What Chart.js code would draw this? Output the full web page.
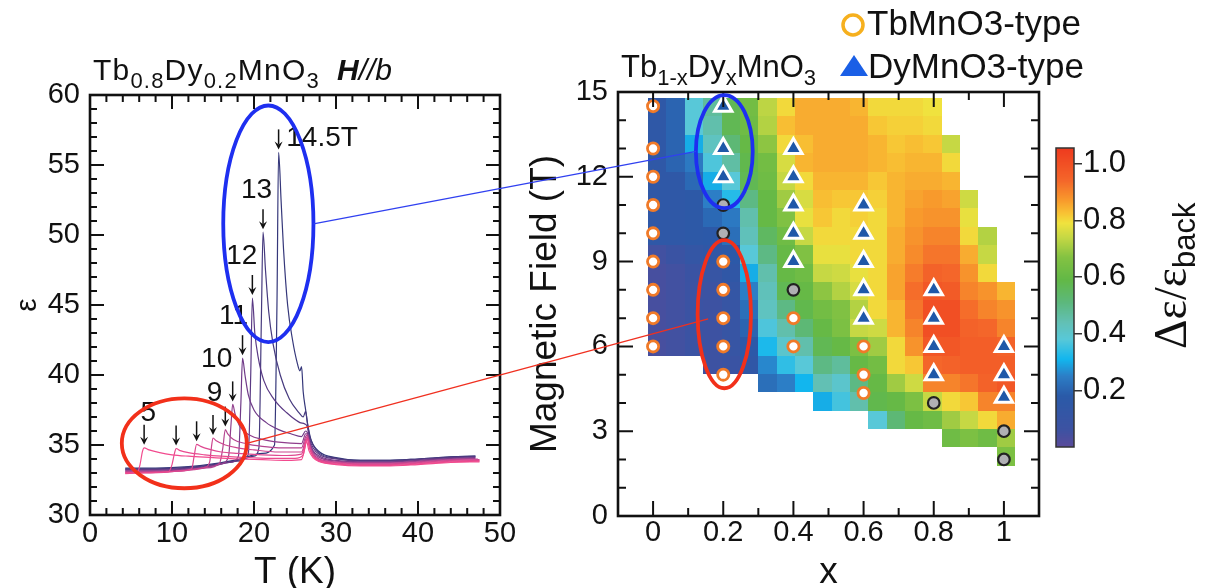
<!DOCTYPE html>
<html><head><meta charset="utf-8"><title>Tb1-xDyxMnO3</title>
<script src="https://cdn.jsdelivr.net/npm/chart.js@4.4.1/dist/chart.umd.min.js"></script>
<style>
html,body{margin:0;padding:0;background:#fff;overflow:hidden;}
#wrap{position:relative;width:1208px;height:588px;background:#fff;}
#wrap canvas{position:absolute;left:0;top:0;}
</style></head><body>
<div id="wrap">
 <canvas id="cEps" width="1208" height="588"></canvas>
 <canvas id="cMap" width="1208" height="588"></canvas>
 <canvas id="cBar" width="1208" height="588"></canvas>
</div>
<script>
// ================= DATA =================
// Left panel: epsilon(T) of Tb0.8Dy0.2MnO3, H // b, for several fields (T)
const fieldsT = [5, 6, 7, 8, 9, 10, 11, 12, 13, 14.5];
const eps_H5 = [[4.3,33.0],[5.0,33.0],[5.8,33.05],[6.1,33.6],[6.4,34.55],[6.6,34.8],[7.2,34.65],[8.5,34.45],[10,34.3],[12,34.2],[15,34.1],[18,34.0],[21,33.95],[24,33.9],[25.8,33.95],[26.2,34.8],[26.4,35.3],[26.7,34.6],[27.2,34.1],[28,33.8],[30,33.6],[33,33.5],[36,33.5],[40,33.6],[44,33.75],[47.5,33.8]];
const eps_H6 = [[4.3,32.95],[6,33.0],[8,33.05],[9.6,33.1],[10.0,33.6],[10.3,34.4],[10.5,34.75],[11,34.6],[12,34.45],[14,34.3],[16,34.2],[19,34.1],[22,34.05],[25,34.05],[26.0,34.3],[26.3,35.1],[26.5,35.4],[26.8,34.7],[27.2,34.2],[28,33.85],[30,33.65],[33,33.55],[36,33.55],[40,33.65],[44,33.8],[47.5,33.85]];
const eps_H7 = [[4.3,33.0],[6,33.0],[9,33.05],[11,33.15],[12.4,33.3],[12.7,34.2],[13.0,35.05],[13.5,34.9],[14.5,34.7],[16,34.5],[18,34.4],[21,34.3],[24,34.25],[25.8,34.35],[26.3,35.2],[26.5,35.5],[26.8,34.8],[27.2,34.25],[28,33.9],[30,33.7],[33,33.6],[36,33.6],[40,33.7],[44,33.85],[47.5,33.9]];
const eps_H8 = [[4.3,33.05],[7,33.05],[10,33.1],[12,33.2],[14,33.4],[14.6,33.8],[14.8,34.8],[15.0,35.5],[15.4,35.3],[16.5,35.0],[18,34.8],[20,34.65],[23,34.5],[25.8,34.5],[26.3,35.4],[26.5,35.6],[26.8,34.9],[27.2,34.3],[28,33.95],[30,33.75],[33,33.65],[36,33.65],[40,33.75],[44,33.9],[47.5,33.95]];
const eps_H9 = [[4.3,33.1],[8,33.1],[11,33.15],[14,33.35],[15.8,33.7],[16.2,34.8],[16.5,36.1],[16.8,35.8],[17.5,35.4],[19,35.1],[21,34.9],[23,34.8],[25.8,34.8],[26.3,35.6],[26.5,35.7],[26.8,35.0],[27.2,34.4],[28,34.0],[30,33.8],[33,33.7],[36,33.7],[40,33.8],[44,33.95],[47.3,34.0]];
const eps_H10 = [[4.3,33.15],[8,33.15],[11,33.2],[14,33.4],[16,33.65],[16.9,34.2],[17.2,36.5],[17.4,37.9],[17.7,37.2],[18.3,36.3],[19.5,35.7],[21,35.4],[23,35.2],[25.8,35.1],[26.3,35.8],[26.5,35.8],[26.8,35.1],[27.2,34.5],[28,34.1],[30,33.85],[33,33.75],[36,33.75],[40,33.85],[44,34.0],[47,34.05]];
const eps_H11 = [[4.3,33.2],[8,33.2],[12,33.3],[15,33.5],[17,33.75],[18.1,34.2],[18.4,38.0],[18.6,41.2],[18.9,40.0],[19.3,38.6],[20,37.5],[21.5,36.6],[23,36.1],[24.5,35.8],[25.8,35.6],[26.3,36.0],[26.5,35.9],[26.8,35.2],[27.2,34.6],[28,34.2],[30,33.9],[33,33.8],[36,33.8],[40,33.9],[44,34.05],[47,34.1]];
const eps_H12 = [[4.3,33.25],[8,33.25],[12,33.35],[15,33.55],[18,33.85],[19.3,34.3],[19.6,40.0],[19.8,45.5],[20.1,43.0],[20.5,41.3],[21.2,39.6],[22.4,38.3],[24,37.3],[25.6,36.6],[26.2,36.5],[26.5,36.3],[26.8,35.4],[27.2,34.8],[28,34.3],[30,34.0],[33,33.85],[36,33.85],[40,33.95],[44,34.1],[47,34.15]];
const eps_H13 = [[4.3,33.3],[8,33.3],[12,33.4],[15,33.6],[18,33.9],[20,34.2],[20.6,34.8],[20.9,44.0],[21.1,50.2],[21.4,47.5],[21.8,44.5],[22.3,42.3],[23.2,40.0],[24.3,38.3],[25.5,37.3],[26.0,37.0],[26.3,37.4],[26.5,36.6],[26.8,35.6],[27.2,35.0],[28,34.4],[30,34.05],[33,33.9],[36,33.9],[40,34.0],[44,34.15],[47,34.2]];
const eps_H14_5 = [[4.3,33.35],[8,33.35],[12,33.45],[15,33.65],[18,33.95],[21,34.4],[22.5,35.0],[22.8,45.0],[23.0,55.9],[23.3,52.5],[23.6,49.0],[24.1,45.0],[24.7,42.5],[25.3,40.8],[25.6,40.3],[25.8,40.6],[26.0,38.8],[26.3,37.5],[26.6,36.3],[27.0,35.3],[28,34.5],[30,34.1],[33,33.9],[36,33.9],[40,34.0],[44,34.15],[47,34.2]];

// field labels near the arrows (text, T, epsilon)
const peakLabelText = ['5', '9', '10', '11', '12', '13', '14.5T'];
const peakLabelT    = [7.1, 15.2, 15.45, 17.5, 18.5, 20.3, 28.3];
const peakLabelE    = [37.3, 38.7, 41.1, 44.2, 48.45, 53.2, 56.9];

// Right panel: Δε/ε_back map of Tb1-xDyxMnO3 (cell centres)
const heatX = [0.012,0.064,0.117,0.169,0.221,0.274,0.326,0.378,0.431,0.483,0.535,0.588,0.640,0.692,0.744,0.797,0.849,0.901,0.954,1.006];
const heatH = [2.10,2.75,3.40,4.05,4.70,5.35,6.00,6.65,7.30,7.95,8.60,9.25,9.91,10.56,11.21,11.86,12.51,13.16,13.81,14.46];
const n = null;
// one array per x column, values from lowest field row to highest
const deltaEps = [
 [n,n,n,n,n,n,.04,.04,.04,.04,.04,.05,.15,.15,.15,.15,.15,.15,.15,.15],
 [n,n,n,n,n,n,.05,.05,.05,.05,.05,.08,.15,.15,.15,.15,.2,.2,.2,.2],
 [n,n,n,n,n,n,.07,.07,.07,.07,.08,.12,.16,.16,.16,.21,.24,.3,.38,.38],
 [n,n,n,n,n,.06,.06,.06,.06,.07,.1,.14,.17,.21,.25,.3,.37,.42,.45,.47],
 [n,n,n,n,n,.08,.1,.1,.1,.12,.14,.17,.22,.24,.33,.38,.46,.52,.57,.57],
 [n,n,n,n,n,.14,.17,.2,.22,.25,.3,.38,.43,.45,.5,.57,.58,.6,.62,.63],
 [n,n,n,n,.22,.26,.32,.37,.42,.43,.45,.5,.55,.6,.6,.62,.63,.68,.72,.73],
 [n,n,n,n,.25,.34,.4,.45,.5,.57,.6,.6,.62,.66,.7,.74,.76,.8,.83,.8],
 [n,n,n,n,.31,.38,.45,.52,.58,.6,.62,.66,.74,.78,.76,.8,.84,.83,.85,.85],
 [n,n,n,.3,.44,.5,.57,.6,.63,.68,.74,.78,.8,.82,.83,.84,.85,.85,.85,.85],
 [n,n,n,.36,.4,.47,.6,.65,.66,.72,.75,.78,.8,.8,.82,.84,.85,.85,.85,.85],
 [n,n,n,.45,.5,.6,.65,.74,.72,.76,.78,.8,.8,.81,.82,.84,.85,.85,.85,.84],
 [n,n,.38,.58,.6,.63,.7,.75,.8,.8,.8,.8,.8,.8,.81,.82,.84,.84,.82,.8],
 [n,n,.52,.6,.7,.8,.8,.84,.84,.86,.86,.85,.85,.84,.84,.84,.83,.82,.81,.8],
 [n,n,.6,.65,.75,.82,.88,.9,.92,.93,.91,.89,.88,.87,.86,.85,.84,.83,.81,.8],
 [n,n,.62,.74,.9,.94,.98,1.0,1.0,.98,.95,.92,.9,.88,.87,.85,.84,.82,.8,.79],
 [n,.62,.7,.8,.9,.95,.98,1.0,1.0,.97,.94,.92,.9,.88,.86,.84,.8,.74,n,n],
 [n,.65,.74,.82,.92,.96,.96,.95,.93,.9,.88,.85,.8,.78,.75,n,n,n,n,n],
 [n,.62,.8,.9,.95,.96,.96,.94,.9,.88,.8,.74,.72,n,n,n,n,n,n,n],
 [.65,.7,.85,.9,.98,.96,.95,.9,.88,.84,n,n,n,n,n,n,n,n,n,n]
];
// phase markers [x, H]
const tbTypePts = [[0,6],[0,7],[0,8],[0,9],[0,10],[0,11],[0,12],[0,13],[0,14.5],[0.2,5],[0.2,6],[0.2,7],[0.2,8],[0.2,9],[0.4,6],[0.4,7],[0.6,4.35],[0.6,5],[0.6,6]];
const dyTypePts = [[0.2,12],[0.2,13],[0.2,14.5],[0.4,9],[0.4,10],[0.4,11],[0.4,12],[0.4,13],[0.6,7],[0.6,8],[0.6,9],[0.6,10],[0.6,11],[0.8,5],[0.8,6],[0.8,7],[0.8,8],[1,4.2],[1,5],[1,6]];
const otherPts  = [[0.2,10],[0.2,11],[0.4,8],[0.8,4],[1,3],[1,2]];

// axis ticks
const mapXTicks = [0, 0.2, 0.4, 0.6, 0.8, 1];
const barTicks = [0.2, 0.4, 0.6, 0.8, 1.0];
const barMin = 0, barMax = 1.055;

// annotation ellipses [centre, centre, radius, radius] in data units
const ellBlueLeft  = [21.75, 50.8, 5.5, 8.45];
const ellRedLeft   = [11.5, 35.12, 7.62, 3.21];
const ellBlueRight = [0.203, 12.89, 0.081, 2.0];
const ellRedRight  = [0.203, 7.14, 0.076, 2.62];
const linkBlueEnd  = [0.1225, 12.9];
const linkRedEnd   = [0.157, 6.97];

// ================= STYLE =================
const SANS = "'Liberation Sans', Arial, sans-serif";
const SERIF = "'Liberation Serif', 'Times New Roman', serif";
const INK = '#111';
const curveColors = ['#f24a8e','#ea4a8f','#de4890','#cc4690','#b44490','#903e8c','#703a88','#5a3a84','#463a7e','#35377a'];
const cmapStops  = [0, 0.06, 0.18, 0.25, 0.31, 0.38, 0.44, 0.51, 0.59, 0.67, 0.74, 0.79, 0.825, 0.87, 0.94, 1.055];
const cmapColors = ['#5a4a9a','#3d52a2','#2a5aa8','#2c7ec6','#12b6ee','#58c8d8','#62c0b4','#5cb87c','#62b846','#84c242','#c6d844','#f0e23e','#f8c234','#f89a2c','#f4662a','#ee3a1e'];

function hex2rgb(h){return [parseInt(h.substr(1,2),16),parseInt(h.substr(3,2),16),parseInt(h.substr(5,2),16)];}
const cmapRGB = cmapColors.map(hex2rgb);
function cmap(v){
  if (v <= cmapStops[0]) return cmapColors[0];
  for (let k = 1; k < cmapStops.length; k++) {
    if (v <= cmapStops[k]) {
      const t = (v - cmapStops[k-1]) / (cmapStops[k] - cmapStops[k-1]);
      const a = cmapRGB[k-1], b = cmapRGB[k];
      return 'rgb(' + a.map((c,i)=>Math.round(c + (b[i]-c)*t)).join(',') + ')';
    }
  }
  return cmapColors[cmapColors.length-1];
}
const TICK_FONT = {family: SANS, size: 29, lineHeight: 1.2};
const AXIS_TITLE_FONT = {family: SANS, size: 37, lineHeight: 0.8};
const EPS_TITLE_FONT = {family: SANS, size: 30, lineHeight: 0.8};

// ================= PLUGINS =================
const frameTicks = {
  id: 'frameTicks',
  afterDraw(chart, args, o) {
    const {ctx, chartArea: a} = chart;
    const xs = chart.scales.x, ys = chart.scales.y;
    ctx.save();
    ctx.strokeStyle = INK; ctx.lineWidth = 2;
    const nx = Math.round((o.xMax - o.xMin) / o.xMinor);
    for (let k = 0; k <= nx; k++) {
      const v = o.xMin + k * o.xMinor;
      const r = v / o.xMajor, major = Math.abs(r - Math.round(r)) < 1e-6;
      const len = major ? o.major : o.minor, p = xs.getPixelForValue(v);
      if (p <= a.left + 1 || p >= a.right - 1) continue;
      ctx.beginPath(); ctx.moveTo(p, a.bottom); ctx.lineTo(p, a.bottom - len);
      ctx.moveTo(p, a.top); ctx.lineTo(p, a.top + len); ctx.stroke();
    }
    const ny = Math.round((o.yMax - o.yMin) / o.yMinor);
    for (let k = 0; k <= ny; k++) {
      const v = o.yMin + k * o.yMinor;
      const r = v / o.yMajor, major = Math.abs(r - Math.round(r)) < 1e-6;
      const len = major ? o.major : o.minor, p = ys.getPixelForValue(v);
      if (p <= a.top + 1 || p >= a.bottom - 1) continue;
      ctx.beginPath(); ctx.moveTo(a.left, p); ctx.lineTo(a.left + len, p);
      ctx.moveTo(a.right, p); ctx.lineTo(a.right - len, p); ctx.stroke();
    }
    ctx.lineWidth = 2.6;
    ctx.strokeRect(a.left, a.top, a.right - a.left, a.bottom - a.top);
    ctx.restore();
  }
};

function ellPx(chart, e) {
  const xs = chart.scales.x, ys = chart.scales.y;
  const cx = xs.getPixelForValue(e[0]), cy = ys.getPixelForValue(e[1]);
  return {cx, cy, rx: Math.abs(xs.getPixelForValue(e[0] + e[2]) - cx), ry: Math.abs(ys.getPixelForValue(e[1] + e[3]) - cy)};
}
function strokeEll(ctx, p, color) {
  ctx.beginPath(); ctx.ellipse(p.cx, p.cy, p.rx, p.ry, 0, 0, Math.PI * 2);
  ctx.strokeStyle = color; ctx.lineWidth = 3.8; ctx.stroke();
}
function drawRich(ctx, x, y, parts) {
  let cx = x;
  for (const [t, font, dy] of parts) {
    ctx.font = font; ctx.fillText(t, cx, y + (dy || 0));
    cx += ctx.measureText(t).width;
  }
  return cx;
}

const epsDecor = {
  id: 'epsDecor',
  afterDatasetsDraw(chart) {
    const {ctx} = chart; const xs = chart.scales.x, ys = chart.scales.y;
    ctx.save();
    // arrows at the ferroelectric transition peak of every curve
    ctx.strokeStyle = INK; ctx.fillStyle = INK; ctx.lineWidth = 1.5;
    chart.data.datasets.forEach(ds => {
      const pk = ds.data.filter(p => p.x < 25).reduce((a, b) => b.y > a.y ? b : a);
      const px = xs.getPixelForValue(pk.x), tip = ys.getPixelForValue(pk.y) - 3, top = tip - 20;
      ctx.beginPath(); ctx.moveTo(px, top); ctx.lineTo(px, tip - 5); ctx.stroke();
      ctx.beginPath(); ctx.moveTo(px - 4, tip - 8); ctx.lineTo(px, tip); ctx.lineTo(px + 4, tip - 8); ctx.lineTo(px, tip - 5); ctx.closePath(); ctx.fill();
    });
    ctx.font = '28px ' + SANS; ctx.textAlign = 'center'; ctx.textBaseline = 'middle';
    peakLabelText.forEach((t, i) => ctx.fillText(t, xs.getPixelForValue(peakLabelT[i]), ys.getPixelForValue(peakLabelE[i])));
    strokeEll(ctx, ellPx(chart, ellBlueLeft), '#1e2ff0');
    strokeEll(ctx, ellPx(chart, ellRedLeft), '#f2301a');
    ctx.restore();
  },
  afterDraw(chart) {
    const {ctx} = chart;
    ctx.save(); ctx.fillStyle = INK; ctx.textBaseline = 'alphabetic'; ctx.textAlign = 'left';
    ctx.letterSpacing = '1.2px';
    const M = '30px ' + SANS, S = '22px ' + SANS;
    drawRich(ctx, 93, 80, [['Tb', M], ['0.8', S, 8], ['Dy', M], ['0.2', S, 8], ['MnO', M], ['3', S, 8]]);
    ctx.letterSpacing = '0px';
    drawRich(ctx, 337, 80, [['H', 'italic bold 30px ' + SANS], ['//b', 'italic 30px ' + SANS]]);
    ctx.restore();
  }
};

const heatPlugin = {
  id: 'heat',
  beforeDatasetsDraw(chart) {
    const {ctx} = chart; const xs = chart.scales.x, ys = chart.scales.y;
    const dx = (heatX[heatX.length-1] - heatX[0]) / (heatX.length - 1);
    const dh = (heatH[heatH.length-1] - heatH[0]) / (heatH.length - 1);
    const xEdge = i => Math.round(xs.getPixelForValue(heatX[0] - dx/2 + i * dx));
    const yEdge = j => Math.round(ys.getPixelForValue(heatH[0] - dh/2 + j * dh));
    ctx.save();
    deltaEps.forEach((col, i) => col.forEach((v, j) => {
      if (v == null) return;
      const x0 = xEdge(i), x1 = xEdge(i + 1), y0 = yEdge(j + 1), y1 = yEdge(j);
      ctx.fillStyle = cmap(v); ctx.fillRect(x0, y0, x1 - x0, y1 - y0);
    }));
    ctx.restore();
  }
};

let epsChart = null;
const mapDecor = {
  id: 'mapDecor',
  afterDraw(chart) {
    const {ctx} = chart;
    ctx.save();
    const bR = ellPx(chart, ellBlueRight), rR = ellPx(chart, ellRedRight);
    strokeEll(ctx, bR, '#1e2ff0');
    strokeEll(ctx, rR, '#f2301a');
    // links from the left-panel ellipses
    if (epsChart) {
      const bL = ellPx(epsChart, ellBlueLeft), rL = ellPx(epsChart, ellRedLeft);
      const xs = chart.scales.x, ys = chart.scales.y;
      ctx.lineWidth = 1.3;
      ctx.strokeStyle = '#3040f0'; ctx.beginPath(); ctx.moveTo(bL.cx + bL.rx, bL.cy);
      ctx.lineTo(xs.getPixelForValue(linkBlueEnd[0]), ys.getPixelForValue(linkBlueEnd[1])); ctx.stroke();
      ctx.strokeStyle = '#f03020'; ctx.beginPath(); ctx.moveTo(rL.cx + rL.rx, rL.cy);
      ctx.lineTo(xs.getPixelForValue(linkRedEnd[0]), ys.getPixelForValue(linkRedEnd[1])); ctx.stroke();
    }
    // title
    ctx.fillStyle = INK; ctx.textBaseline = 'alphabetic'; ctx.textAlign = 'left';
    const M = '31px ' + SANS, S = '22px ' + SANS;
    drawRich(ctx, 621, 77, [['Tb', M], ['1-x', S, 8], ['Dy', M], ['x', S, 8], ['MnO', M], ['3', S, 8]]);
    // legend
    ctx.beginPath(); ctx.arc(853, 25, 10, 0, Math.PI*2); ctx.lineWidth = 3.5; ctx.strokeStyle = '#f6b01e'; ctx.stroke();
    ctx.fillStyle = '#1a5fe6'; ctx.beginPath(); ctx.moveTo(854, 55); ctx.lineTo(868, 76); ctx.lineTo(840, 76); ctx.closePath(); ctx.fill();
    ctx.fillStyle = INK; ctx.font = '35px ' + SANS;
    ctx.fillText('TbMnO3-type', 867, 35);
    ctx.fillText('DyMnO3-type', 868, 78);
    ctx.restore();
  }
};

const barPlugin = {
  id: 'barFill',
  afterDraw(chart) {
    const {ctx, chartArea: a} = chart; const ys = chart.scales.y;
    ctx.save();
    for (let py = Math.floor(a.top); py < a.bottom; py++) {
      ctx.fillStyle = cmap(ys.getValueForPixel(py + 0.5));
      ctx.fillRect(a.left, py, a.right - a.left, 1);
    }
    ctx.strokeStyle = '#333'; ctx.lineWidth = 1.5;
    ctx.strokeRect(a.left, a.top, a.right - a.left, a.bottom - a.top);
    // colour-bar title Δε/ε_back
    ctx.translate(1186, 349); ctx.rotate(-Math.PI / 2);
    ctx.fillStyle = INK; ctx.textBaseline = 'alphabetic'; ctx.textAlign = 'left';
    drawRich(ctx, 0, 0, [['Δε/ε', '46px ' + SERIF], ['back', '31px ' + SANS, 9]]);
    ctx.restore();
  }
};

// ================= CHARTS =================
const common = {responsive: false, animation: false, devicePixelRatio: 1, events: []};

epsChart = new Chart(document.getElementById('cEps'), {
  type: 'line',
  data: {datasets: [eps_H5, eps_H6, eps_H7, eps_H8, eps_H9, eps_H10, eps_H11, eps_H12, eps_H13, eps_H14_5].map((c, i) => ({
    label: fieldsT[i] + ' T', data: c.map(p => ({x: p[0], y: p[1]})),
    borderColor: curveColors[i], borderWidth: 1.2, pointRadius: 0, fill: false, cubicInterpolationMode: 'monotone'
  }))},
  options: Object.assign({}, common, {
    layout: {padding: {left: 0, top: 95, right: 708, bottom: 0}},
    plugins: {legend: {display: false}, tooltip: {enabled: false},
      frameTicks: {xMin: 0, xMax: 50, xMinor: 2, xMajor: 10, yMin: 30, yMax: 60, yMinor: 1, yMajor: 5, major: 14, minor: 7}},
    scales: {
      x: {type: 'linear', min: 0, max: 50,
        ticks: {stepSize: 10, font: TICK_FONT, color: INK, padding: 2, maxRotation: 0},
        grid: {display: false, drawTicks: false}, border: {display: false},
        title: {display: true, text: 'T (K)', font: AXIS_TITLE_FONT, color: INK, padding: {top: 0, bottom: 0}},
        afterFit: s => { s.height = 73; }},
      y: {type: 'linear', min: 30, max: 60,
        ticks: {stepSize: 5, font: TICK_FONT, color: INK, padding: 10},
        grid: {display: false, drawTicks: false}, border: {display: false},
        title: {display: true, text: 'ε', font: EPS_TITLE_FONT, color: INK, padding: {top: 16, bottom: 0}},
        afterFit: s => { s.width = 90; }}
    }
  }),
  plugins: [epsDecor, frameTicks]
});

const ptsToXY = arr => arr.map(p => ({x: p[0], y: p[1]}));
new Chart(document.getElementById('cMap'), {
  type: 'scatter',
  data: {datasets: [
    {label: 'TbMnO3-type', data: ptsToXY(tbTypePts), pointStyle: 'circle', pointRadius: 5.6, pointBorderWidth: 2.8, backgroundColor: '#ffffff', borderColor: '#f07a28'},
    {label: 'DyMnO3-type', data: ptsToXY(dyTypePts), pointStyle: 'triangle', pointRadius: 10, pointBorderWidth: 3, backgroundColor: '#1f58a8', borderColor: '#ffffff'},
    {label: 'other', data: ptsToXY(otherPts), pointStyle: 'circle', pointRadius: 5.8, pointBorderWidth: 2.2, backgroundColor: '#b0b0b4', borderColor: '#222'}
  ]},
  options: Object.assign({}, common, {
    layout: {padding: {left: 528, top: 92, right: 169, bottom: 0}},
    plugins: {legend: {display: false}, tooltip: {enabled: false},
      frameTicks: {xMin: -0.1, xMax: 1.1, xMinor: 0.1, xMajor: 0.2, yMin: 0, yMax: 15, yMinor: 1, yMajor: 3, major: 15, minor: 8}},
    scales: {
      x: {type: 'linear', min: -0.1, max: 1.1,
        afterBuildTicks: s => { s.ticks = mapXTicks.map(v => ({value: v})); },
        ticks: {font: TICK_FONT, color: INK, padding: 0, maxRotation: 0, callback: v => String(Math.round(v * 10) / 10)},
        grid: {display: false, drawTicks: false}, border: {display: false},
        title: {display: true, text: 'x', font: AXIS_TITLE_FONT, color: INK, padding: {top: 0, bottom: 0}},
        afterFit: s => { s.height = 72; }},
      y: {type: 'linear', min: 0, max: 15,
        ticks: {stepSize: 3, font: TICK_FONT, color: INK, padding: 10},
        grid: {display: false, drawTicks: false}, border: {display: false},
        title: {display: true, text: 'Magnetic Field (T)', font: AXIS_TITLE_FONT, color: INK, padding: {top: 3, bottom: 0}},
        afterFit: s => { s.width = 90; }}
    }
  }),
  plugins: [heatPlugin, frameTicks, mapDecor]
});

new Chart(document.getElementById('cBar'), {
  type: 'scatter',
  data: {datasets: [{data: []}]},
  options: Object.assign({}, common, {
    layout: {padding: {left: 1056, top: 148, right: 74, bottom: 141}},
    plugins: {legend: {display: false}, tooltip: {enabled: false}},
    scales: {
      x: {display: false, min: 0, max: 1},
      y: {position: 'right', min: barMin, max: barMax,
        afterBuildTicks: s => { s.ticks = barTicks.map(v => ({value: v})); },
        ticks: {font: {family: SANS, size: 31, lineHeight: 1.2}, color: INK, padding: 1, callback: v => v.toFixed(1)},
        grid: {drawOnChartArea: false, drawTicks: true, tickLength: 8, color: '#333', lineWidth: 1.5},
        border: {display: false},
        afterFit: s => { s.width = 60; }}
    }
  }),
  plugins: [barPlugin]
});
</script>
</body></html>
